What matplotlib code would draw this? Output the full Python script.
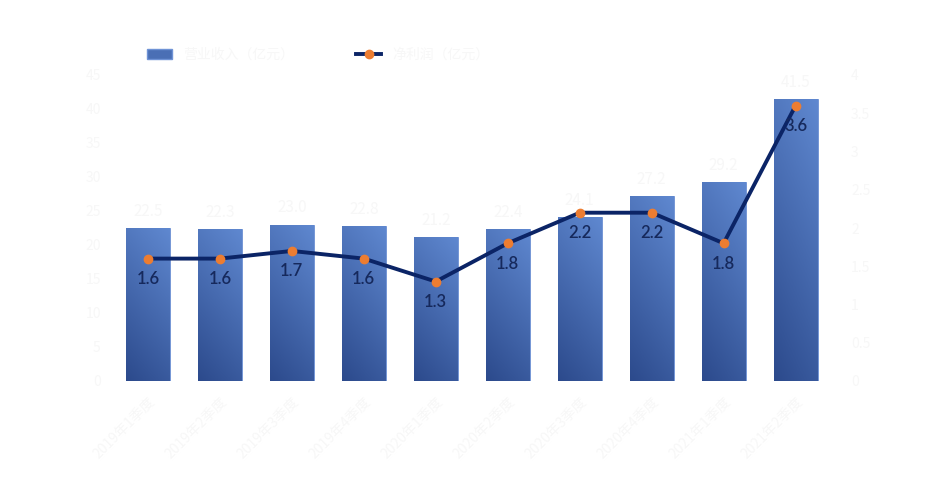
import numpy as np
import matplotlib
matplotlib.use("Agg")
import matplotlib.pyplot as plt
import matplotlib.colors as mcolors
from matplotlib.lines import Line2D
from matplotlib.patches import Patch

plt.rcParams["font.family"] = ["Noto Sans CJK SC", "DejaVu Sans"]

# ---------------------------------------------------------------------------
# DATA
# ---------------------------------------------------------------------------
quarters = [
    "2019年1季度", "2019年2季度", "2019年3季度", "2019年4季度", "2020年1季度",
    "2020年2季度", "2020年3季度", "2020年4季度", "2021年1季度", "2021年2季度",
]
revenue = [22.5, 22.3, 23.0, 22.8, 21.2, 22.4, 24.1, 27.2, 29.2, 41.5]
profit = [1.6, 1.6, 1.7, 1.6, 1.3, 1.8, 2.2, 2.2, 1.8, 3.6]
bar_name = "营业收入（亿元）"
line_name = "净利润（亿元）"

left_ticks = list(range(0, 50, 5))
right_ticks = [0, 0.5, 1, 1.5, 2, 2.5, 3, 3.5, 4]

TEXT_LIGHT = "#f7f7f7"
NAVY = "#0b2466"
ORANGE = "#ed7d31"

# ---------------------------------------------------------------------------
# PLOT
# ---------------------------------------------------------------------------
fig = plt.figure(figsize=(9.25, 5), dpi=100)
fig.patch.set_facecolor("white")
ax = fig.add_axes([0.121, 0.238, 0.778, 0.612])
ax2 = ax.twinx()

x = np.arange(len(quarters))
bars = ax.bar(x, revenue, width=0.61, color="#4a6fb5", zorder=2)

# gradient fill in each bar (lighter top-right, darker bottom)
cmap = mcolors.LinearSegmentedColormap.from_list("bar_grad", ["#2c4a8c", "#5f88d0"])
gx, gy = np.meshgrid(np.linspace(0, 1, 40), np.linspace(0, 1, 200))
grad = 0.75 * gy + 0.25 * gx
for b in bars:
    x0, w, h = b.get_x(), b.get_width(), b.get_height()
    im = ax.imshow(grad, cmap=cmap, origin="lower", aspect="auto",
                   extent=[x0, x0 + w, 0, h], zorder=2.1)
    im.set_clip_path(b)
    b.set_edgecolor("#6f93d6")
    b.set_linewidth(0.6)

for xi, v in zip(x, revenue):
    ax.text(xi, v + 1.2, f"{v:.1f}", ha="center", va="bottom",
            fontsize=11, color=TEXT_LIGHT, zorder=4)

ax.set_xlim(-0.5, len(quarters) - 0.5)
ax.set_ylim(0, 45)
ax.set_yticks(left_ticks)
ax.set_yticklabels([str(t) for t in left_ticks], fontsize=10, color=TEXT_LIGHT)
ax.set_xticks(x)
ax.set_xticklabels(quarters, rotation=45, ha="right", rotation_mode="anchor",
                   fontsize=10, color=TEXT_LIGHT)
ax.tick_params(length=0, pad=8)
ax.tick_params(axis="x", pad=10)

ax2.plot(x, profit, color=NAVY, lw=2.8, marker="o", ms=6,
         markerfacecolor=ORANGE, markeredgecolor=ORANGE, zorder=5)
for xi, v in zip(x, profit):
    ax2.annotate(f"{v:.1f}", (xi, v), xytext=(0, -9), textcoords="offset points",
                 ha="center", va="top", fontsize=12, color="#16295c",
                 family=["Lato", "DejaVu Sans"], fontweight="semibold", zorder=6)
ax2.set_ylim(0, 4)
ax2.set_yticks(right_ticks)
ax2.set_yticklabels([f"{t:g}" for t in right_ticks], fontsize=10, color=TEXT_LIGHT)
ax2.tick_params(length=0, pad=14)

for a in (ax, ax2):
    for s in a.spines.values():
        s.set_visible(False)
ax.set_zorder(1)
ax2.set_zorder(2)
ax2.patch.set_visible(False)

handles = [
    Patch(facecolor="#4a6fb5", edgecolor="#6f93d6"),
    Line2D([0], [0], color=NAVY, lw=2.8, marker="o", ms=6,
           markerfacecolor=ORANGE, markeredgecolor=ORANGE),
]
fig.legend(handles, [bar_name, line_name], loc="upper left",
           bbox_to_anchor=(0.145, 0.93), ncol=2, frameon=False, fontsize=10,
           labelcolor=TEXT_LIGHT, columnspacing=4.5, handlelength=1.8)

fig.savefig("out.png", dpi=100, facecolor="white")
